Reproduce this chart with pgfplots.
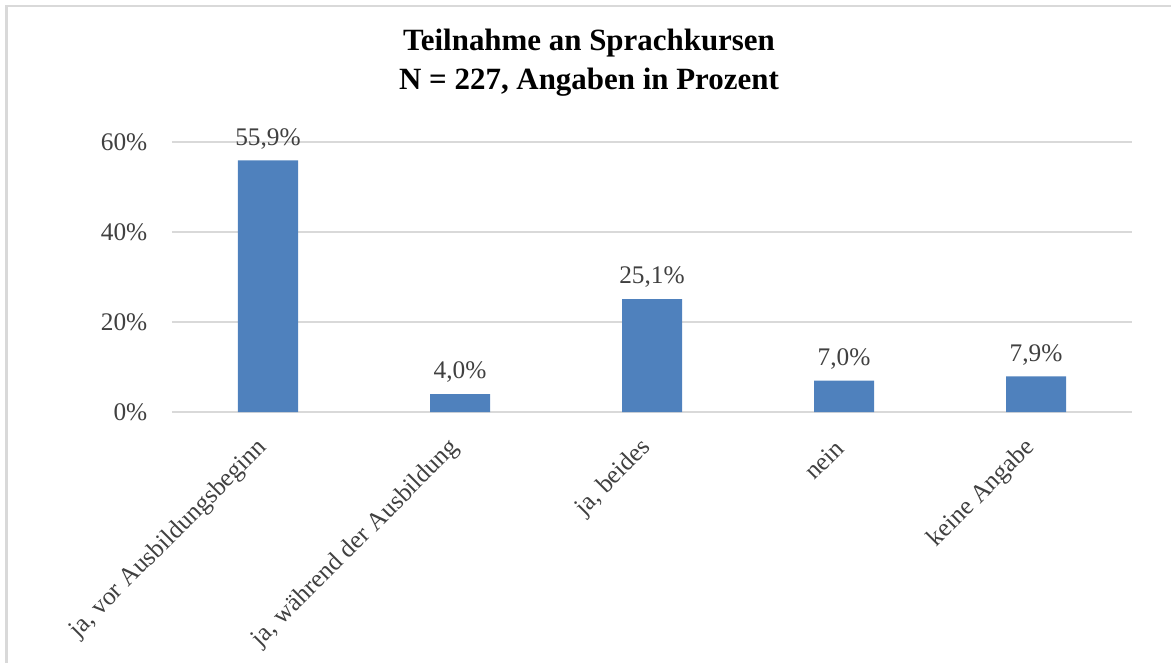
\documentclass[border=0pt]{standalone}
\usepackage{fontspec}
\setmainfont{Liberation Serif}
\usepackage{pgfplots}
\pgfplotsset{compat=1.18}
\definecolor{barc}{HTML}{4F81BD}
\definecolor{gridc}{HTML}{D9D9D9}
\definecolor{txt}{HTML}{404040}
\begin{document}
\begin{tikzpicture}
\useasboundingbox (0,0) rectangle ({1171*0.75pt},{-662*0.75pt});
\draw[gridc, line width=1.6pt] ({6.5*0.75pt},{-700*0.75pt}) -- ({6.5*0.75pt},{-6*0.75pt}) -- ({1200*0.75pt},{-6*0.75pt});
\node[font=\fontsize{23.2}{29.2}\selectfont\bfseries, align=center] at ({589*0.75pt},{-63*0.75pt}) {Teilnahme an Sprachkursen\\N = 227, Angaben in Prozent};
\begin{axis}[
  at={({172*0.75pt},{-412*0.75pt})}, anchor=south west,
  scale only axis, width=720pt, height=202.5pt,
  ymin=0, ymax=60, xmin=-0.5, xmax=4.5,
  axis line style={draw=none},
  major tick style={draw=none},
  ymajorgrids, major grid style={gridc, line width=1.2pt},
  ytick={0,20,40,60}, yticklabels={0\%,20\%,40\%,60\%},
  yticklabel style={font=\fontsize{19}{22}\selectfont, text=txt, xshift=-15pt},
  xtick={0,1,2,3,4},
  xticklabels={{ja, vor Ausbildungsbeginn},{ja, während der Ausbildung},{ja, beides},{nein},{keine Angabe}},
  xticklabel style={font=\fontsize{19}{22}\selectfont, text=txt, rotate=45, anchor=east, inner sep=0pt, xshift=-16.3pt, yshift=-11.7pt},
  ybar, bar width=45pt,
  point meta=explicit symbolic,
  nodes near coords,
  nodes near coords style={font=\fontsize{19}{22}\selectfont, text=txt, anchor=south, yshift=5pt},
  clip=false,
]
\addplot[fill=barc, draw=none] coordinates {
 (0,55.9) [55,9\%]
 (1,4.0) [4,0\%]
 (2,25.1) [25,1\%]
 (3,7.0) [7,0\%]
 (4,7.9) [7,9\%]
};
\end{axis}
\end{tikzpicture}
\end{document}
